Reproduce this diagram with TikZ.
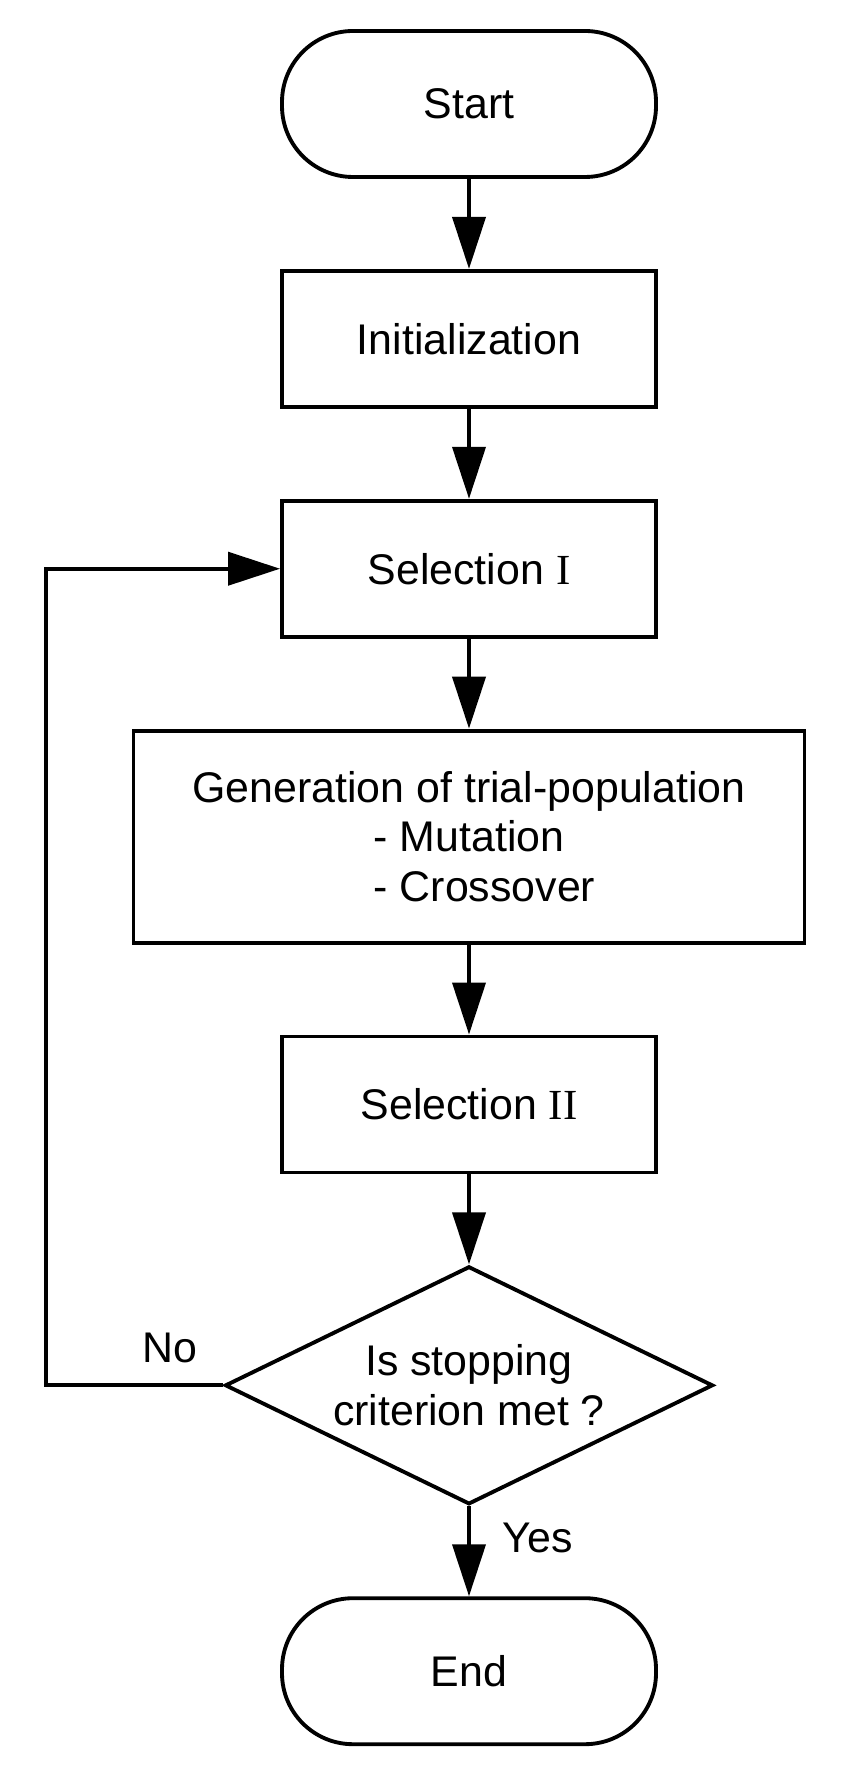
\documentclass[tikz,border=0pt]{standalone}
\usepackage{fontspec}
\setmainfont{Liberation Sans}
\newfontfamily\romanfont{Liberation Serif}
\usetikzlibrary{positioning, shapes.geometric, arrows.meta}

\begin{document}
\begin{tikzpicture}[
		font = \fontsize{12.2}{14.2}\selectfont,
		node distance = 0.9cm,
		line width = 1.1pt,
		terminal/.style = { draw, rounded corners = 0.71cm, minimum width = 3.74cm, minimum height = 1.46cm },
		process/.style = { draw, minimum width = 3.74cm, minimum height = 1.36cm },
		decision/.style = { draw, diamond, aspect = 2.05, inner sep = 0pt, minimum width = 4.88cm, minimum height = 2.38cm, align = center },
		link/.style = { draw, -{Triangle[length = 5.2mm, width = 3.3mm]} }
	]
	\useasboundingbox (0, 0) rectangle (8.5, -17.85);
	\node [terminal] (start) at (4.69, -1.04) { Start };
	\node [process, below = of start] (init) { Initialization };
	\node [process, below = of init] (sel1) { Selection {\romanfont I} };
	\node [process, below = of sel1, minimum width = 6.71cm, minimum height = 2.12cm, align = center] (gen) {Generation of trial-population\\- Mutation\\\rlap{- Crossover}\phantom{- Mutation}};
	\node [process, below = of gen] (sel2) { Selection {\romanfont II} };
	\node [decision, below = of sel2] (test) {Is stopping\\criterion met ?};
	\node [terminal, below = of test] (end) { End };
	\draw [link] (start) -- (init);
	\draw [link] (init) -- (sel1);
	\draw [link] (sel1) -- (gen);
	\draw [link] (gen) -- (sel2);
	\draw [link] (sel2) -- (test);
	\draw [link] (test) -- node [right = 0.2cm, pos = 0.35] { Yes } (end);
	\draw [link] (test.west) -- node [above = 0.09cm, pos = 0.3] { No } ++(-1.77, 0) |- (sel1.west);
\end{tikzpicture}
\end{document}
